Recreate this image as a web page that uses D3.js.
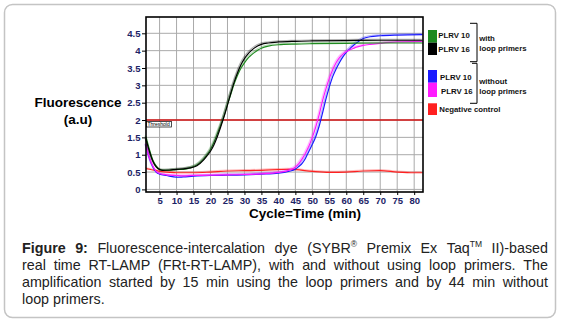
<!DOCTYPE html>
<html>
<head>
<meta charset="utf-8">
<script src="https://cdn.jsdelivr.net/npm/d3@7"></script>
<style>
  html, body { margin: 0; padding: 0; background: #fff; }
  svg { display: block; font-family: "Liberation Sans", Arial, sans-serif; }
</style>
</head>
<body>
<svg id="chart" width="561" height="324"></svg>
<script>
// Time points (min) and fluorescence readings (a.u.) for each reaction
const timeWithLoop = [1, 2, 3, 4, 5, 6, 8, 10, 12, 14, 16, 18, 19, 20, 21, 22, 23, 24, 25, 26, 27, 28, 29, 30, 31, 32, 33, 34, 35, 37, 40, 45, 50, 60, 70, 82.5];
const plrv10Loop = [1.52, 1.15, 0.85, 0.68, 0.58, 0.55, 0.55, 0.57, 0.58, 0.62, 0.70, 0.88, 1.00, 1.15, 1.35, 1.60, 1.85, 2.12, 2.45, 2.75, 3.05, 3.30, 3.50, 3.65, 3.78, 3.87, 3.95, 4.02, 4.07, 4.13, 4.17, 4.19, 4.20, 4.21, 4.22, 4.22];
const plrv16Loop = [1.45, 1.10, 0.82, 0.65, 0.57, 0.55, 0.56, 0.58, 0.59, 0.62, 0.68, 0.85, 0.97, 1.10, 1.28, 1.52, 1.80, 2.10, 2.43, 2.78, 3.10, 3.37, 3.60, 3.77, 3.90, 4.00, 4.08, 4.14, 4.18, 4.22, 4.25, 4.27, 4.28, 4.29, 4.30, 4.30];

const timeNoLoop = [1, 2, 3, 4, 5, 7, 10, 12, 15, 20, 25, 30, 35, 40, 43, 45, 46, 47, 48, 49, 50, 51, 52, 53, 54, 55, 56, 57, 58, 59, 60, 61, 62, 63, 65, 67, 70, 75, 82.5];
const plrv10NoLoop = [1.28, 0.90, 0.65, 0.50, 0.44, 0.40, 0.35, 0.36, 0.38, 0.40, 0.41, 0.42, 0.44, 0.47, 0.52, 0.58, 0.66, 0.75, 0.90, 1.10, 1.30, 1.52, 1.82, 2.20, 2.60, 2.95, 3.25, 3.47, 3.66, 3.82, 3.95, 4.05, 4.14, 4.22, 4.35, 4.40, 4.43, 4.45, 4.46];
const plrv16NoLoop = [1.30, 0.92, 0.68, 0.52, 0.46, 0.42, 0.40, 0.39, 0.40, 0.41, 0.42, 0.43, 0.45, 0.49, 0.55, 0.64, 0.74, 0.88, 1.05, 1.25, 1.50, 1.80, 2.15, 2.55, 2.90, 3.20, 3.45, 3.65, 3.80, 3.90, 3.97, 4.02, 4.06, 4.10, 4.15, 4.18, 4.21, 4.25, 4.27];

const timeNegative = [1, 3, 5, 8, 10, 15, 20, 25, 30, 35, 40, 43, 45, 50, 55, 60, 65, 70, 75, 80, 82.5];
const negativeControl = [0.60, 0.56, 0.52, 0.49, 0.48, 0.48, 0.50, 0.53, 0.54, 0.55, 0.57, 0.58, 0.57, 0.52, 0.49, 0.50, 0.53, 0.54, 0.50, 0.48, 0.48];

const thresholdValue = 2;
const xTicks = [5, 10, 15, 20, 25, 30, 35, 40, 45, 50, 55, 60, 65, 70, 75, 80];
const yTicks = [0, 0.5, 1, 1.5, 2, 2.5, 3, 3.5, 4, 4.5];

const seriesList = [
  { name: "PLRV 10", group: "with", color: "#1f8a1f", t: timeWithLoop, v: plrv10Loop },
  { name: "PLRV 16", group: "with", color: "#000000", t: timeWithLoop, v: plrv16Loop },
  { name: "PLRV 10", group: "without", color: "#1a1aff", t: timeNoLoop, v: plrv10NoLoop },
  { name: "PLRV 16", group: "without", color: "#ff1aff", t: timeNoLoop, v: plrv16NoLoop },
  { name: "Negative control", group: "neg", color: "#ff2020", t: timeNegative, v: negativeControl }
];

const captionLines = [
  [[{ s: "Figure", b: 1 }], [{ s: "9:", b: 1 }], [{ s: "Fluorescence-intercalation" }], [{ s: "dye" }],
   [{ s: "(SYBR" }, { s: "®", sup: 1 }], [{ s: "Premix" }], [{ s: "Ex" }], [{ s: "Taq" }, { s: "TM", sup: 1 }], [{ s: "II)-based" }]],
  "real time RT-LAMP (FRt-RT-LAMP), with and without using loop primers. The",
  "amplification started by 15 min using the loop primers and by 44 min without",
  "loop primers."
];

const svg = d3.select("#chart");

// Rounded card frame
svg.append("rect")
  .attr("x", 4.5).attr("y", 4.5).attr("width", 551).attr("height", 313)
  .attr("rx", 8).attr("fill", "#fff").attr("stroke", "#c4c4c4").attr("stroke-width", 1.5);

const plot = { left: 146, right: 423, top: 17, bottom: 192 };
const x = d3.scaleLinear().domain([1, 82.6]).range([plot.left, plot.right]);
const y = d3.scaleLinear().domain([0, 4.5]).range([189.4, 33.3]);

const g = svg.append("g");

// Grid
g.append("g").selectAll("line").data(xTicks).join("line")
  .attr("x1", d => x(d)).attr("x2", d => x(d))
  .attr("y1", plot.top).attr("y2", plot.bottom)
  .attr("stroke", "#aaaaaa").attr("stroke-width", 1);
g.append("g").selectAll("line").data(yTicks).join("line")
  .attr("x1", plot.left).attr("x2", plot.right)
  .attr("y1", d => y(d)).attr("y2", d => y(d))
  .attr("stroke", "#aaaaaa").attr("stroke-width", 1);

// Threshold line
g.append("line")
  .attr("x1", plot.left).attr("x2", plot.right)
  .attr("y1", y(thresholdValue)).attr("y2", y(thresholdValue))
  .attr("stroke", "#d01010").attr("stroke-width", 1.3);

// Amplification curves
const line = d3.line().curve(d3.curveMonotoneX).x(d => x(d[0])).y(d => y(d[1]));
const drawOrder = [4, 2, 3, 0, 1];
drawOrder.forEach(i => {
  const s = seriesList[i];
  const pts = s.t.map((t, k) => [t, s.v[k]]);
  g.append("path").datum(pts)
    .attr("fill", "none").attr("stroke", s.color).attr("stroke-opacity", 0.3)
    .attr("stroke-width", 1.2).attr("transform", "translate(-1,-1)")
    .attr("d", line);
  g.append("path").datum(pts)
    .attr("fill", "none").attr("stroke", s.color)
    .attr("stroke-width", 1.2).attr("d", line);
});

// Threshold tag
g.append("rect").attr("x", 146.5).attr("y", 121.5).attr("width", 25).attr("height", 5.5)
  .attr("fill", "#fff").attr("stroke", "#000").attr("stroke-width", 0.7);
g.append("text").attr("x", 147.5).attr("y", 126).attr("font-size", 5).attr("fill", "#000").text("Threshold");

// Frame of plot area
g.append("rect")
  .attr("x", plot.left).attr("y", plot.top)
  .attr("width", plot.right - plot.left).attr("height", plot.bottom - plot.top)
  .attr("fill", "none").attr("stroke", "#000").attr("stroke-width", 1.6);

// Axes
const tickColor = "#1c2366";
const yAxis = g.append("g").attr("transform", `translate(${plot.left},0)`)
  .call(d3.axisLeft(y).tickValues(yTicks).tickSize(4).tickPadding(1.5).tickFormat(d3.format("~g")));
const xAxis = g.append("g").attr("transform", `translate(0,${plot.bottom})`)
  .call(d3.axisBottom(x).tickValues(xTicks).tickSize(3).tickPadding(2).tickFormat(d3.format("~g")));
[yAxis, xAxis].forEach(a => {
  a.select(".domain").remove();
  a.selectAll(".tick line").attr("stroke", "#000");
  a.selectAll(".tick text").attr("fill", tickColor)
    .attr("font-size", 9.5).attr("font-weight", "bold")
    .attr("font-family", "'Liberation Sans', Arial, sans-serif");
});

// Axis titles
svg.append("text").attr("x", 78).attr("y", 107).attr("text-anchor", "middle")
  .attr("font-size", 13.5).attr("font-weight", "bold").attr("fill", "#000").text("Fluorescence");
svg.append("text").attr("x", 78).attr("y", 124).attr("text-anchor", "middle")
  .attr("font-size", 13.5).attr("font-weight", "bold").attr("fill", "#000").text("(a.u)");
svg.append("text").attr("x", 305).attr("y", 218).attr("text-anchor", "middle")
  .attr("font-size", 13.5).attr("font-weight", "bold").attr("fill", "#000").text("Cycle=Time (min)");

// Legend
const leg = svg.append("g").attr("font-size", 7.8).attr("font-weight", "bold").attr("fill", "#111");
const legendBoxes = [
  { s: seriesList[0], y0: 30, y1: 42.7, tx: 438.3, ty: 35 },
  { s: seriesList[1], y0: 42.7, y1: 55, tx: 438.3, ty: 49.3 },
  { s: seriesList[2], y0: 70, y1: 82.7, tx: 440, ty: 76.7 },
  { s: seriesList[3], y0: 82.7, y1: 97, tx: 441, ty: 90.7 },
  { s: seriesList[4], y0: 103.3, y1: 115, tx: 439.3, ty: 109.3 }
];
legendBoxes.forEach(b => {
  leg.append("rect").attr("x", 428).attr("y", b.y0).attr("width", 9).attr("height", b.y1 - b.y0)
    .attr("fill", b.s.color);
  leg.append("text").attr("x", b.tx).attr("y", b.ty + 2.8).text(b.s.name);
});
// Group brackets
const brackets = [
  { top: 23.3, bottom: 61.7, xt: 470, xb: 470, labels: [["with", 38.3], ["loop primers", 48.3]] },
  { top: 63.3, bottom: 103.3, xt: 472, xb: 470, labels: [["without", 81], ["loop primers", 91]] }
];
brackets.forEach(br => {
  leg.append("path")
    .attr("d", `M${br.xt},${br.top}H477V${br.bottom}H${br.xb}`)
    .attr("fill", "none").attr("stroke", "#000").attr("stroke-width", 1);
  br.labels.forEach(([t, cy]) => leg.append("text").attr("x", 479.3).attr("y", cy + 2.8).text(t));
});

// Caption, justified line by line
const cap = svg.append("g").attr("font-size", 14.3).attr("fill", "#222");
const capLeft = 22, capRight = 548, capBase = [252.5, 269.5, 286.5, 303.5];
captionLines.forEach((ln, li) => {
  const words = typeof ln === "string" ? ln.split(" ").map(w => [{ s: w }]) : ln;
  const nodes = words.map(parts => {
    const t = cap.append("text").attr("y", capBase[li]);
    parts.forEach(p => {
      const ts = t.append("tspan").text(p.s);
      if (p.b) ts.attr("font-weight", "bold");
      if (p.sup) ts.attr("font-size", 8.5).attr("dy", -5.5);
    });
    return t;
  });
  const widths = nodes.map(n => n.node().getComputedTextLength());
  const total = d3.sum(widths);
  const isLast = li === captionLines.length - 1;
  const gap = isLast ? 4 : (capRight - capLeft - total) / (nodes.length - 1);
  let cx = capLeft;
  nodes.forEach((n, k) => { n.attr("x", cx); cx += widths[k] + gap; });
});
</script>
</body>
</html>
